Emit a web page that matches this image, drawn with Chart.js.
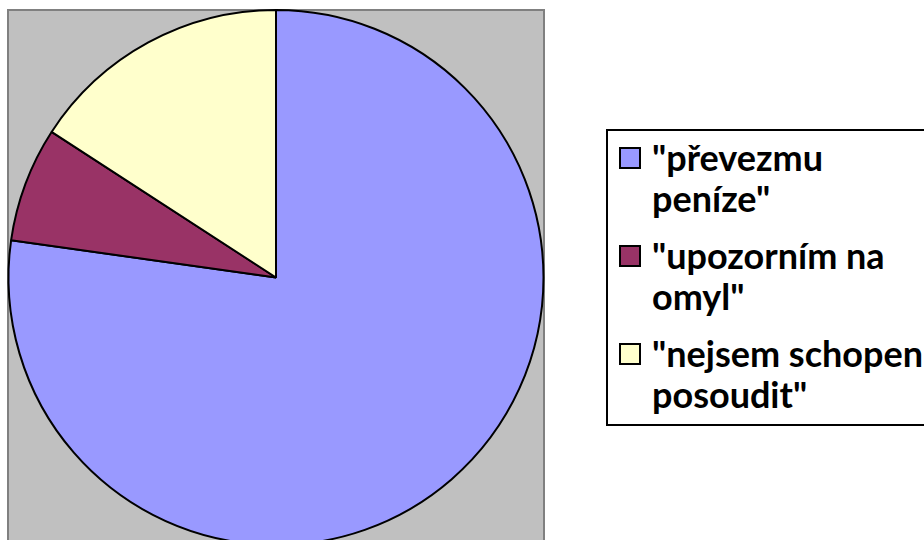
<!DOCTYPE html>
<html lang="cs">
<head>
    <meta charset="UTF-8">
    <title>Koláčový graf</title>
    <script src="https://cdn.jsdelivr.net/npm/chart.js"></script>
    <style>
        html, body {
            margin: 0;
            padding: 0;
            width: 924px;
            height: 540px;
            overflow: hidden;
            background: #ffffff;
        }

        #plotBg {
            position: absolute;
            left: 7px;
            top: 9px;
            width: 538px;
            height: 600px;
            box-sizing: border-box;
            background: #c0c0c0;
            border: 2px solid #808080;
        }

        #myChart {
            position: absolute;
            left: 0;
            top: 0;
        }

        #legend {
            position: absolute;
            left: 606px;
            top: 129px;
            width: 340px;
            height: 297px;
            box-sizing: border-box;
            border: 2px solid #000000;
            background: #ffffff;
            padding-top: 5.6px;
            font-family: Lato, sans-serif;
            font-weight: bold;
            font-size: 36px;
            line-height: 41px;
            color: #000000;
            white-space: nowrap;
        }

        .item {
            position: relative;
            padding-left: 44px;
            margin-bottom: 16px;
        }

        .box {
            position: absolute;
            left: 11px;
            top: 10.4px;
            width: 22px;
            height: 22px;
            box-sizing: border-box;
            border: 2px solid #000000;
        }
    </style>
</head>
<body>

    <div id="plotBg"></div>
    <canvas id="myChart" width="560" height="560"></canvas>
    <div id="legend"></div>

    <script>
        // data (counts of answers)
        const labels = [
            ['"převezmu', 'peníze"'],
            ['"upozorním na', 'omyl"'],
            ['"nejsem schopen', 'posoudit"']
        ];
        const counts = [78, 7, 16];
        const colors = ['#9999ff', '#993366', '#ffffcc'];

        const ctx = document.getElementById('myChart').getContext('2d');
        const chart = new Chart(ctx, {
            type: 'pie',
            data: {
                labels: labels,
                datasets: [{
                    data: counts,
                    backgroundColor: colors,
                    borderColor: '#000000',
                    borderWidth: 2
                }]
            },
            options: {
                responsive: false,
                animation: false,
                radius: 267.5,
                layout: {
                    padding: { left: 0, top: 0, right: 8, bottom: 5 }
                },
                plugins: {
                    legend: { display: false },
                    tooltip: { enabled: false }
                }
            }
        });

        // legend as html, same colours and labels as the chart
        const legendEl = document.getElementById('legend');
        labels.forEach((lines, i) => {
            const item = document.createElement('div');
            item.className = 'item';
            const box = document.createElement('span');
            box.className = 'box';
            box.style.background = colors[i];
            item.appendChild(box);
            lines.forEach((line, j) => {
                if (j > 0) item.appendChild(document.createElement('br'));
                item.appendChild(document.createTextNode(line));
            });
            legendEl.appendChild(item);
        });
    </script>

</body>
</html>
